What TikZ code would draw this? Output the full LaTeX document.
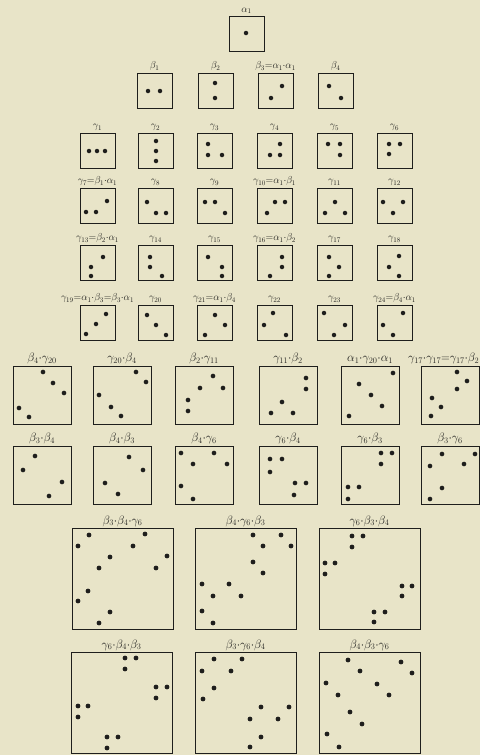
\documentclass[tikz,border=0pt]{standalone}
\usepackage{amsmath}
\usetikzlibrary{positioning,calc}
\definecolor{paper}{RGB}{232,228,200}
\definecolor{ink}{RGB}{30,30,28}

\begin{document}
\begin{tikzpicture}[
    x=0.05cm, y=-0.05cm,
    cell/.style={draw=ink, line width=1.1pt, anchor=north west, inner sep=0pt, outer sep=0pt},
    small/.style={cell, minimum size=1.75cm},
    mid/.style={cell, minimum size=2.9cm},
    big/.style={cell, minimum size=5.05cm},
    lab/.style={text=ink, inner sep=1pt, font=\Large},
    biglab/.style={lab, font=\LARGE},
    pt/.style={fill=ink}
]
% paper
\fill[paper] (0,0) rectangle (480,755);
\useasboundingbox (0,0) rectangle (480,755);

% small cells: one, two and three points
\foreach \n/\x/\y/\t/\d in {
    a1/229/16/{$\alpha_1$}/{17/17},
    b1/137/73/{$\beta_1$}/{11/18,23/18},
    b2/198/73/{$\beta_2$}/{17/10,17/25},
    b3/258/73/{$\beta_3{=}\alpha_1{\cdot}\alpha_1$}/{24/13,13/25},
    b4/318/73/{$\beta_4$}/{11/13,23/25},
    g1/80/133/{$\gamma_1$}/{9/18,17/18,25/18},
    g2/138/133/{$\gamma_2$}/{18/8,18/18,18/28},
    g3/197/133/{$\gamma_3$}/{11/11,11/22,25/22},
    g4/257/133/{$\gamma_4$}/{23/11,13/22,23/22},
    g5/317/133/{$\gamma_5$}/{11/11,23/11,23/22},
    g6/377/133/{$\gamma_6$}/{12/11,23/11,12/21},
    g7/80/188/{$\gamma_7{=}\beta_1{\cdot}\alpha_1$}/{27/13,6/24,16/24},
    g8/138/188/{$\gamma_8$}/{9/14,18/25,28/25},
    g9/197/188/{$\gamma_9$}/{8/14,18/14,28/25},
    g10/257/188/{$\gamma_{10}{=}\alpha_1{\cdot}\beta_1$}/{18/14,28/14,10/25},
    g11/317/188/{$\gamma_{11}$}/{18/14,8/25,28/25},
    g12/377/188/{$\gamma_{12}$}/{6/14,26/14,16/25},
    g13/80/245/{$\gamma_{13}{=}\beta_2{\cdot}\alpha_1$}/{23/12,11/22,11/31},
    g14/138/245/{$\gamma_{14}$}/{12/12,12/22,24/31},
    g15/197/245/{$\gamma_{15}$}/{11/12,25/22,25/31},
    g16/257/245/{$\gamma_{16}{=}\alpha_1{\cdot}\beta_2$}/{25/12,25/22,13/31},
    g17/317/245/{$\gamma_{17}$}/{12/12,22/22,12/31},
    g18/377/245/{$\gamma_{18}$}/{22/11,12/22,22/31},
    g19/80/305/{$\gamma_{19}{=}\alpha_1{\cdot}\beta_3{=}\beta_3{\cdot}\alpha_1$}/{26/9,16/19,6/29},
    g20/138/305/{$\gamma_{20}$}/{9/10,18/20,28/30},
    g21/197/305/{$\gamma_{21}{=}\alpha_1{\cdot}\beta_4$}/{18/10,28/20,8/30},
    g22/257/305/{$\gamma_{22}$}/{16/8,7/20,29/30},
    g23/317/305/{$\gamma_{23}$}/{7/8,28/20,17/30},
    g24/377/305/{$\gamma_{24}{=}\beta_4{\cdot}\alpha_1$}/{26/8,6/20,16/30}}{
  \node[small] (\n) at (\x,\y) {};
  \node[lab, above=2pt of \n] (\n-t) {\t};
  \foreach \a/\b in \d \fill[pt] ($(\n.north west)+(\a,\b)$) circle (3.2pt);
}

% middle cells: products of two
\foreach \n/\x/\y/\o/\t/\d in {
    p1/13/366/0/{$\beta_4{\cdot}\gamma_{20}$}/{30/6,40/17,51/27,6/42,16/51},
    p2/93/366/0/{$\gamma_{20}{\cdot}\beta_4$}/{43/6,53/16,6/29,18/41,28/50},
    p3/175/366/0/{$\beta_2{\cdot}\gamma_{11}$}/{38/10,25/22,48/22,13/34,13/45},
    p4/259/366/0/{$\gamma_{11}{\cdot}\beta_2$}/{47/12,47/23,23/36,12/47,34/47},
    p5/341/366/0/{$\alpha_1{\cdot}\gamma_{20}{\cdot}\alpha_1$}/{52/7,18/18,30/29,41/40,8/50},
    p6/421/366/-9/{$\gamma_{17}{\cdot}\gamma_{17}{=}\gamma_{17}{\cdot}\beta_2$}/{36/6,46/15,36/23,11/32,20/41,10/50},
    q1/13/446/0/{$\beta_3{\cdot}\beta_4$}/{22/10,10/24,49/36,36/50},
    q2/93/446/0/{$\beta_4{\cdot}\beta_3$}/{36/11,50/24,12/37,25/48},
    q3/175/446/0/{$\beta_4{\cdot}\gamma_6$}/{6/7,39/7,18/18,52/18,6/40,18/53},
    q4/259/446/0/{$\gamma_6{\cdot}\beta_4$}/{11/13,23/13,11/26,36/37,47/37,35/49},
    q5/341/446/0/{$\gamma_6{\cdot}\beta_3$}/{40/7,51/7,40/18,7/41,18/41,7/53},
    q6/421/446/0/{$\beta_3{\cdot}\gamma_6$}/{21/8,54/8,9/20,43/18,21/42,9/53}}{
  \node[mid] (\n) at (\x,\y) {};
  \node[biglab, above=2pt of \n, xshift=\o pt] (\n-t) {\t};
  \foreach \a/\b in \d \fill[pt] ($(\n.north west)+(\a,\b)$) circle (3.3pt);
}

% large cells: products of three
\foreach \n/\x/\y/\t/\d in {
    r1/72/528/{$\beta_3{\cdot}\beta_4{\cdot}\gamma_6$}/{17/7,73/6,6/18,61/18,38/29,95/28,27/40,84/40,16/63,6/73,38/84,27/95},
    r2/195/528/{$\beta_4{\cdot}\gamma_6{\cdot}\beta_3$}/{58/7,86/7,68/18,96/18,58/34,68/45,7/56,34/56,18/68,46/68,7/83,18/95},
    r3/319/528/{$\gamma_6{\cdot}\beta_3{\cdot}\beta_4$}/{33/8,44/8,33/19,6/35,16/35,6/46,83/58,93/58,83/68,55/84,66/84,55/94},
    s1/71/652/{$\gamma_6{\cdot}\beta_4{\cdot}\beta_3$}/{54/6,65/6,54/17,85/35,96/35,85/46,7/54,17/54,7/65,36/85,47/85,36/96},
    s2/195/652/{$\beta_3{\cdot}\gamma_6{\cdot}\beta_4$}/{19/7,47/7,7/19,36/19,19/36,8/47,66/55,94/55,55/67,83/67,66/85,55/95},
    s3/319/652/{$\beta_4{\cdot}\beta_3{\cdot}\gamma_6$}/{29/8,82/10,41/19,93/21,7/31,58/32,19/43,70/43,31/60,43/72,8/82,20/95}}{
  \node[big] (\n) at (\x,\y) {};
  \node[biglab, above=1pt of \n] (\n-t) {\t};
  \foreach \a/\b in \d \fill[pt] ($(\n.north west)+(\a,\b)$) circle (3.4pt);
}
\end{tikzpicture}
\end{document}
